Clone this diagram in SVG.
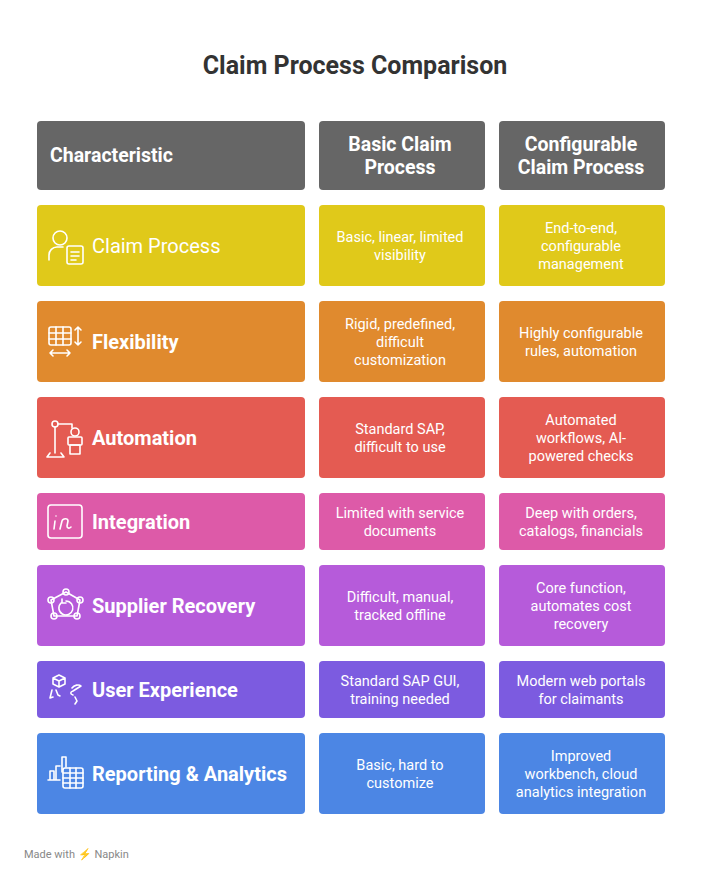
<svg xmlns="http://www.w3.org/2000/svg" width="710" height="882" viewBox="0 0 710 882">
<style>
text{font-family:Roboto,"Liberation Sans",sans-serif;fill:#fff}
.t{font-size:25px;font-weight:bold;fill:#333}
.h{font-size:19.5px;font-weight:bold}
.l{font-size:20px;font-weight:bold}
.c{font-size:14.5px;text-anchor:middle}
.i{fill:none;stroke:#fff;stroke-width:1.6;stroke-linecap:round;stroke-linejoin:round}
.f{font-size:11px;fill:#888}
</style>
<rect width="710" height="882" fill="#fff"/>
<text class="t" x="355" y="74" text-anchor="middle">Claim Process Comparison</text>
<g id="header">
<rect x="37" y="121" width="268" height="69" rx="4" fill="#666"/>
<rect x="319" y="121" width="166" height="69" rx="4" fill="#666"/>
<rect x="499" y="121" width="166" height="69" rx="4" fill="#666"/>
<text class="h" x="50" y="162">Characteristic</text>
<text class="h" x="400" y="151" text-anchor="middle">Basic Claim</text>
<text class="h" x="400" y="174" text-anchor="middle">Process</text>
<text class="h" x="581" y="151" text-anchor="middle">Configurable</text>
<text class="h" x="581" y="174" text-anchor="middle">Claim Process</text>
</g>
<g id="row-claim">
<rect x="37" y="205" width="268" height="81" rx="4" fill="#E0C91A"/>
<rect x="319" y="205" width="166" height="81" rx="4" fill="#E0C91A"/>
<rect x="499" y="205" width="166" height="81" rx="4" fill="#E0C91A"/>
<g class="i"><circle cx="60" cy="238" r="7"/><path d="M49 260v-5a8 8 0 0 1 8-8h6"/><rect x="67" y="246" width="16" height="18" rx="2"/><path d="M71 252h8M71 256h8M71 260h5"/></g>
<text class="l" x="92" y="253" style="font-weight:normal">Claim Process</text>
<text class="c" x="400" y="242">Basic, linear, limited</text>
<text class="c" x="400" y="260">visibility</text>
<text class="c" x="581" y="233">End-to-end,</text>
<text class="c" x="581" y="251">configurable</text>
<text class="c" x="581" y="269">management</text>
</g>
<g id="row-flex">
<rect x="37" y="301" width="268" height="81" rx="4" fill="#E08A2E"/>
<rect x="319" y="301" width="166" height="81" rx="4" fill="#E08A2E"/>
<rect x="499" y="301" width="166" height="81" rx="4" fill="#E08A2E"/>
<g class="i"><rect x="49" y="327" width="22" height="18" rx="2"/><path d="M49 333h22M49 339h22M56 327v18M63 327v18M78 327v18M75 330l3-3 3 3M75 342l3 3 3-3M50 353h20M53 350l-3 3 3 3M67 350l3 3-3 3"/></g>
<text class="l" x="92" y="349">Flexibility</text>
<text class="c" x="400" y="329">Rigid, predefined,</text>
<text class="c" x="400" y="347">difficult</text>
<text class="c" x="400" y="365">customization</text>
<text class="c" x="581" y="338">Highly configurable</text>
<text class="c" x="581" y="356">rules, automation</text>
</g>
<g id="row-auto">
<rect x="37" y="397" width="268" height="81" rx="4" fill="#E45B52"/>
<rect x="319" y="397" width="166" height="81" rx="4" fill="#E45B52"/>
<rect x="499" y="397" width="166" height="81" rx="4" fill="#E45B52"/>
<g class="i"><circle cx="55" cy="424" r="3"/><path d="M55 427v26M50 453l-3 4h17l-3-4M58 424h14M72 424v4"/><circle cx="75" cy="432" r="4"/><rect x="68" y="437" width="14" height="8" rx="1"/><rect x="70" y="445" width="10" height="9"/></g>
<text class="l" x="92" y="445">Automation</text>
<text class="c" x="400" y="434">Standard SAP,</text>
<text class="c" x="400" y="452">difficult to use</text>
<text class="c" x="581" y="425">Automated</text>
<text class="c" x="581" y="443">workflows, AI-</text>
<text class="c" x="581" y="461">powered checks</text>
</g>
<g id="row-integ">
<rect x="37" y="493" width="268" height="57" rx="4" fill="#DD5AA8"/>
<rect x="319" y="493" width="166" height="57" rx="4" fill="#DD5AA8"/>
<rect x="499" y="493" width="166" height="57" rx="4" fill="#DD5AA8"/>
<g class="i"><rect x="48" y="505" width="34" height="33" rx="3"/><path d="M56 516v0M55 521l-1 8M60 529l2-8c1-3 6-3 6 0l-1 5c0 2 2 3 4 1"/></g>
<text class="l" x="92" y="529">Integration</text>
<text class="c" x="400" y="518">Limited with service</text>
<text class="c" x="400" y="536">documents</text>
<text class="c" x="581" y="518">Deep with orders,</text>
<text class="c" x="581" y="536">catalogs, financials</text>
</g>
<g id="row-supp">
<rect x="37" y="565" width="268" height="81" rx="4" fill="#B65BDA"/>
<rect x="319" y="565" width="166" height="81" rx="4" fill="#B65BDA"/>
<rect x="499" y="565" width="166" height="81" rx="4" fill="#B65BDA"/>
<g class="i"><path d="M66 592l14 8-3 16H54l-3-16z"/><circle cx="66" cy="592" r="3"/><circle cx="80" cy="600" r="3"/><circle cx="77" cy="616" r="3"/><circle cx="54" cy="616" r="3"/><circle cx="51" cy="600" r="3"/><path d="M61 603a7 7 0 1 0 5-2M62 599v4h4"/></g>
<text class="l" x="92" y="613">Supplier Recovery</text>
<text class="c" x="400" y="602">Difficult, manual,</text>
<text class="c" x="400" y="620">tracked offline</text>
<text class="c" x="581" y="593">Core function,</text>
<text class="c" x="581" y="611">automates cost</text>
<text class="c" x="581" y="629">recovery</text>
</g>
<g id="row-ux">
<rect x="37" y="661" width="268" height="57" rx="4" fill="#7C5BE0"/>
<rect x="319" y="661" width="166" height="57" rx="4" fill="#7C5BE0"/>
<rect x="499" y="661" width="166" height="57" rx="4" fill="#7C5BE0"/>
<g class="i"><path d="M53 678l6-3 6 3v6l-6 3-6-3zM53 678l6 3 6-3M59 681v6M52 690l-2 8 3-1M56 690l2 5 2 1M72 688c2-3 7-4 9-2l-8 5c-3 1-3 3 0 4M75 697l2 4-2 3"/></g>
<text class="l" x="92" y="697">User Experience</text>
<text class="c" x="400" y="686">Standard SAP GUI,</text>
<text class="c" x="400" y="704">training needed</text>
<text class="c" x="581" y="686">Modern web portals</text>
<text class="c" x="581" y="704">for claimants</text>
</g>
<g id="row-report">
<rect x="37" y="733" width="268" height="81" rx="4" fill="#4C86E4"/>
<rect x="319" y="733" width="166" height="81" rx="4" fill="#4C86E4"/>
<rect x="499" y="733" width="166" height="81" rx="4" fill="#4C86E4"/>
<g class="i"><path d="M48 780h12M50 780v-9h4v9M56 780v-14h4M62 772v-15h4v10"/><rect x="63" y="768" width="20" height="20" rx="2"/><path d="M63 773h20M63 778h20M63 783h20M70 768v20M76 768v20"/></g>
<text class="l" x="92" y="781">Reporting &amp; Analytics</text>
<text class="c" x="400" y="770">Basic, hard to</text>
<text class="c" x="400" y="788">customize</text>
<text class="c" x="581" y="761">Improved</text>
<text class="c" x="581" y="779">workbench, cloud</text>
<text class="c" x="581" y="797">analytics integration</text>
</g>
<text class="f" x="24" y="858">Made with ⚡ Napkin</text>
</svg>
